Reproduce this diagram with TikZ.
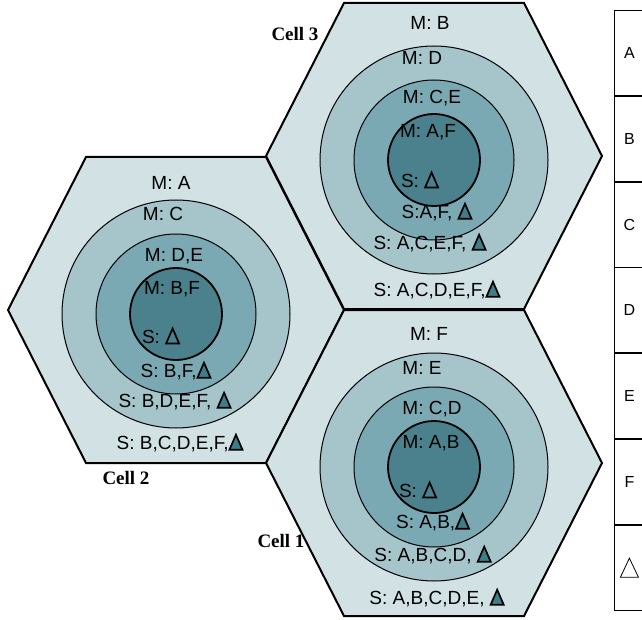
\documentclass[tikz,border=0pt]{standalone}
\usepackage{fontspec}
\setmainfont{Liberation Sans}
\newfontfamily\cellfont{Liberation Serif}
\usetikzlibrary{positioning}
\definecolor{hexfill}{HTML}{D1E1E4}
\definecolor{ringout}{HTML}{A5C5CA}
\definecolor{ringmid}{HTML}{7AA9B3}
\definecolor{ringin}{HTML}{4A818D}
\definecolor{trifill}{HTML}{3E7E8A}
% filled and open triangle marks used in the texts
\newcommand{\tri}{\tikz[baseline=0pt]\draw[line width=1.7pt, fill=trifill, line join=miter] (0pt,0pt) -- (13pt,0pt) -- (6.5pt,15pt) -- cycle;}
\newcommand{\trio}{\tikz[baseline=0pt]\draw[line width=1.7pt, line join=miter] (0pt,0pt) -- (13pt,0pt) -- (6.5pt,15pt) -- cycle;}
\newcommand{\trileg}{\tikz[baseline=0pt]\draw[line width=0.8pt, fill=white] (0pt,0pt) -- (18pt,0pt) -- (9pt,19pt) -- cycle;}
\tikzset{
    every node/.style={inner sep=1pt, font=\fontsize{19}{21}\selectfont}, % text in the cells
    cellname/.style={font=\cellfont\bfseries\fontsize{19}{21}\selectfont}, % the Cell labels
    legcell/.style={draw, line width=0.8pt, minimum width=30pt, minimum height=85pt, inner sep=0pt, font=\fontsize{16}{18}\selectfont},
    node distance=0pt,
    hexcell/.pic={
        \draw[line width=2pt, fill=hexfill, line join=miter]
            (-168,0) -- (-90,-153) -- (90,-153) -- (168,0) -- (90,153) -- (-90,153) -- cycle;
        \draw[line width=1pt, fill=ringout] (0,4) circle (114pt);
        \draw[line width=1pt, fill=ringmid] (0,4) circle (80pt);
        \draw[line width=1.8pt, fill=ringin] (0,4) circle (46pt);
    },
}
\begin{document}
\begin{tikzpicture}[x=1pt, y=-1pt]
\clip (0,0) rectangle (642,620);

% the three cells
\pic at (176,310) {hexcell};
\pic at (434,156) {hexcell};
\pic at (434,463) {hexcell};

% Cell 3
\node (c3a) at (430,23)  {M: B};
\node (c3b) at (422,58)  {M: D};
\node (c3c) at (432,98)  {M: C,E};
\node (c3d) at (428,132) {M: A,F};
\node (c3e) at (420,180) {S: \trio};
\node (c3f) at (437,212) {S:A,F, \tri};
\node (c3g) at (430,243) {S: A,C,E,F, \tri};
\node (c3h) at (437,290) {S: A,C,D,E,F,\tri};

% Cell 2
\node (c2a) at (171,183) {M: A};
\node (c2b) at (163,214) {M: C};
\node (c2c) at (174,256) {M: D,E};
\node (c2d) at (172,289) {M: B,F};
\node (c2e) at (161,336) {S: \trio};
\node (c2f) at (176,371) {S: B,F,\tri};
\node (c2g) at (175,401) {S: B,D,E,F, \tri};
\node (c2h) at (180,443) {S: B,C,D,E,F,\tri};

% Cell 1
\node (c1a) at (429,334) {M: F};
\node (c1b) at (422,368) {M: E};
\node (c1c) at (432,409) {M: C,D};
\node (c1d) at (431,443) {M: A,B};
\node (c1e) at (418,490) {S: \trio};
\node (c1f) at (433,522) {S: A,B,\tri};
\node (c1g) at (433,555) {S: A,B,C,D, \tri};
\node (c1h) at (437,598) {S: A,B,C,D,E, \tri};

% cell names
\node[cellname] (cell3) at (295,34)  {Cell 3};
\node[cellname] (cell2) at (126,478) {Cell 2};
\node[cellname] (cell1) at (281,541) {Cell 1};

% legend column
\node[legcell, anchor=north west] (legA) at (614,10) {A};
\node[legcell, below=of legA] (legB) {B};
\node[legcell, below=of legB] (legC) {C};
\node[legcell, below=of legC] (legD) {D};
\node[legcell, below=of legD] (legE) {E};
\node[legcell, below=of legE] (legF) {F};
\node[legcell, below=of legF] (legT) {\trileg};
\end{tikzpicture}
\end{document}
